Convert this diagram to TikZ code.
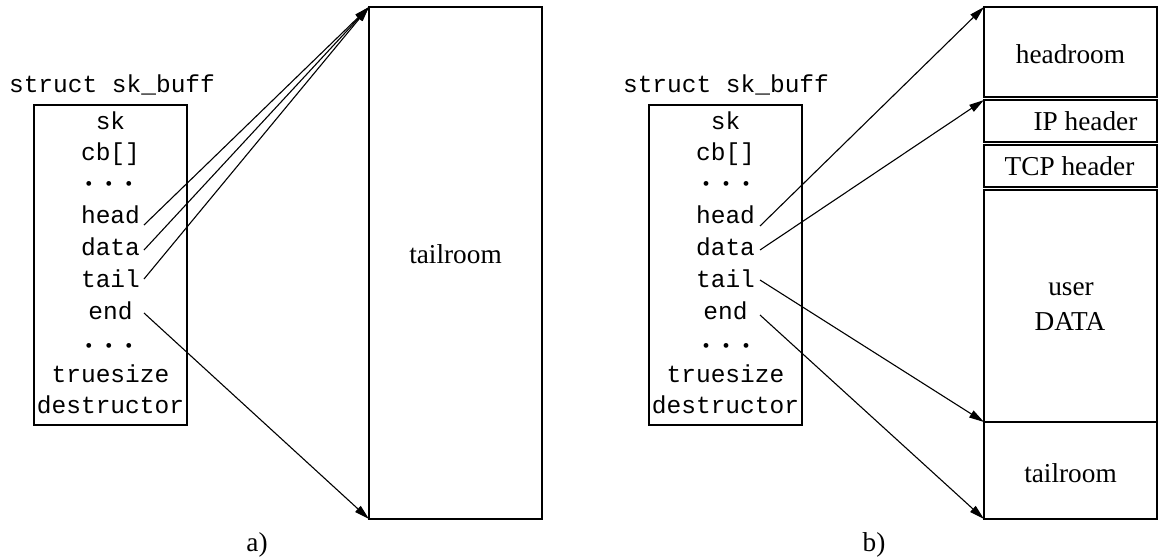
\documentclass[tikz,border=0pt]{standalone}
\usepackage{fontspec}
\setmainfont{Liberation Serif}
\setmonofont{Liberation Mono}
\usetikzlibrary{arrows.meta,calc}
\begin{document}
\begin{tikzpicture}[x=1pt,y=-1pt,
  buf/.style={draw,line width=1.6pt,inner sep=0pt,outer sep=0pt,anchor=north west,minimum width=173pt},
  lbl/.style={font=\fontsize{27.3}{30}\selectfont,anchor=base,inner sep=0pt},
  code/.style={font=\fontsize{24.5}{28}\selectfont\ttfamily,anchor=base,inner sep=0pt},
  dots/.style={font=\fontsize{20}{22}\selectfont,anchor=base,inner sep=0pt},
  sbox/.style={draw,line width=1.2pt,inner sep=0pt,outer sep=0pt,anchor=north west,minimum width=153pt,minimum height=320pt},
  ptr/.style={line width=1.1pt,-{Triangle[length=15pt,width=8pt]}},
]
\useasboundingbox (0,0) rectangle (1159,557);
\newcommand{\mydots}{•\hspace{13pt}•\hspace{13pt}•}

% ---------- a) ----------
\node[code] (stA) at (112,92) {struct sk\_buff};
\node[sbox] (sA) at (34,105) {};
\node[code] (skA)   at (110.5,129.0) {sk};
\node[code] (cbA)   at (110.5,160.6) {cb[]};
\node[dots] (d1A)   at (109,190) {\mydots};
\node[code] (headA) at (110.5,223.8) {head};
\node[code] (dataA) at (110.5,255.4) {data};
\node[code] (tailA) at (110.5,287.0) {tail};
\node[code] (endA)  at (110.5,319.0) {end};
\node[dots] (d2A)   at (109,352) {\mydots};
\node[code] (tsA)   at (110.5,382.6) {truesize};
\node[code] (dsA)   at (110.5,413.0) {destructor};

\node[buf,minimum height=512pt] (bufA) at (369,7) {};
\node[lbl] (trA) at (455.5,263) {tailroom};

\coordinate (hA) at (144,225);
\coordinate (dA) at (144,250);
\coordinate (tA) at (144,279);
\coordinate (eA) at (144,313);
\draw[ptr] (hA) -- (bufA.north west);
\draw[ptr] (dA) -- (bufA.north west);
\draw[ptr] (tA) -- (bufA.north west);
\draw[ptr] (eA) -- (bufA.south west);

\node[lbl] (la) at (257,551) {a)};

% ---------- b) ----------
\node[code] (stB) at (726,92) {struct sk\_buff};
\node[sbox] (sB) at (649,105) {};
\node[code] (skB)   at (725.5,129.0) {sk};
\node[code] (cbB)   at (725.5,160.6) {cb[]};
\node[dots] (d1B)   at (726,190) {\mydots};
\node[code] (headB) at (725.5,223.8) {head};
\node[code] (dataB) at (725.5,255.4) {data};
\node[code] (tailB) at (725.5,287.0) {tail};
\node[code] (endB)  at (725.5,319.0) {end};
\node[dots] (d2B)   at (726,352) {\mydots};
\node[code] (tsB)   at (725.5,382.6) {truesize};
\node[code] (dsB)   at (725.5,413.0) {destructor};

\node[buf,minimum height=90pt]  (hr)  at (984,7) {};
\node[buf,minimum height=42pt]  (iph) at (984,100) {};
\node[buf,minimum height=42pt]  (tcp) at (984,145) {};
\node[buf,minimum height=232pt] (ud)  at (984,190) {};
\node[buf,minimum height=97pt]  (trB) at (984,422) {};

\node[lbl] (thr)  at (1070.5,63)  {headroom};
\node[lbl] (tiph) at (1085.5,130) {IP header};
\node[lbl] (ttcp) at (1069.5,175) {TCP header};
\node[lbl] (tus)  at (1071,295)   {user};
\node[lbl] (tda)  at (1070,330)   {DATA};
\node[lbl] (ttr)  at (1070.5,482) {tailroom};

\coordinate (hB) at (760,226);
\coordinate (dB) at (760,250);
\coordinate (tB) at (760,280);
\coordinate (eB) at (760,315);
\draw[ptr] (hB) -- (hr.north west);
\draw[ptr] (dB) -- (iph.north west);
\draw[ptr] (tB) -- (trB.north west);
\draw[ptr] (eB) -- (trB.south west);

\node[lbl] (lb) at (874,551) {b)};
\end{tikzpicture}
\end{document}
